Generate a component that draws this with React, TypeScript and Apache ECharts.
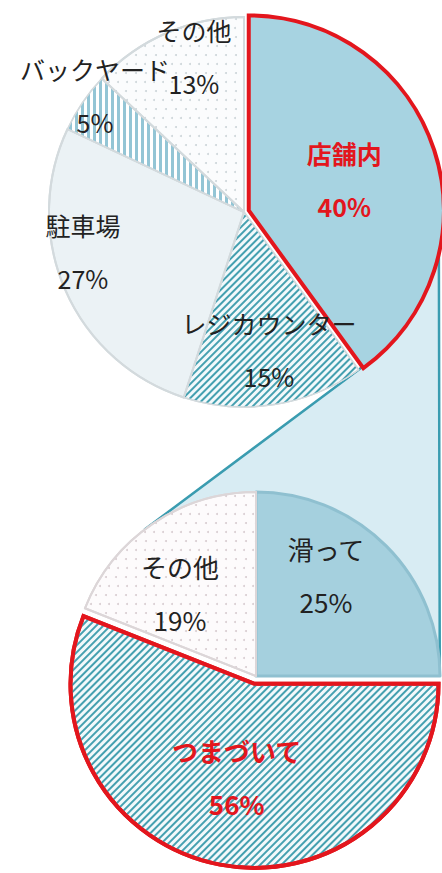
import React, { useEffect, useRef } from 'react';
import * as echarts from 'echarts';

// ---- data ----
const topCategories = ['店舗内', 'レジカウンター', '駐車場', 'バックヤード', 'その他'];
const topValues = [40, 15, 27, 5, 13];
const bottomCategories = ['滑って', 'つまづいて', 'その他'];
const bottomValues = [25, 56, 19];
const topHighlight = '店舗内';
const bottomHighlight = 'つまづいて';

// ---- layout ----
const W = 442;
const H = 873;
const TOP_C = [244, 212];
const TOP_R = 195;
const BOT_C = [256, 676];
const BOT_R = 184;
const topLabelPos = [[348, 191], [269, 349], [83, 251], [95, 95], [194, 56]];
const bottomLabelPos = [[326, 575], [236, 783], [180, 593]];

// ---- styles ----
const RED = '#e3161d';
const TEAL = '#45a0b0';
const FONT = "'Noto Sans CJK JP', 'Noto Sans', sans-serif";
const GREY_BORDER = '#d3dadd';

const stripes = (color: string, rotation: number, dash = [1.9, 3]) => ({
  symbol: 'rect',
  symbolSize: 1,
  color,
  dashArrayX: [1, 0],
  dashArrayY: dash,
  rotation,
});
const dots = (color: string, size: number, gap: number) => ({
  symbol: 'circle',
  symbolSize: 1,
  color,
  dashArrayX: [[size, gap], [0, (size + gap) / 2, size, (gap - size) / 2 > 0 ? (gap - size) / 2 : 0]],
  dashArrayY: [size, gap],
});

const topStyles: any[] = [
  { color: '#a7d3e1', borderColor: RED, borderWidth: 4, borderJoin: 'miter' },
  { color: '#f3f9fb', borderColor: GREY_BORDER, borderWidth: 1.5, decal: stripes(TEAL, -Math.PI / 4) },
  { color: '#ebf2f5', borderColor: GREY_BORDER, borderWidth: 2, decal: dots('#c3d3da', 1, 2) },
  { color: '#ffffff', borderColor: GREY_BORDER, borderWidth: 1.5, decal: stripes('#93c5d5', Math.PI / 2, [2.5, 3]) },
  { color: '#fbfcfd', borderColor: GREY_BORDER, borderWidth: 2, decal: dots('#cdd5d9', 2, 7) },
];
const bottomStyles: any[] = [
  { color: '#a5d0de', borderColor: '#8fc0d0', borderWidth: 3 },
  { color: '#f3f9fb', borderColor: RED, borderWidth: 4, borderJoin: 'miter', decal: stripes(TEAL, -Math.PI / 4) },
  { color: '#fdfbfc', borderColor: '#dcd6d8', borderWidth: 2, decal: dots('#d8cdd1', 2, 7) },
];

function tangentPoints() {
  const dx = BOT_C[0] - TOP_C[0];
  const dy = BOT_C[1] - TOP_C[1];
  const d = Math.hypot(dx, dy);
  const ux = dx / d, uy = dy / d;
  const px = -uy, py = ux;
  // internal tangent (crossing between circles)
  const a1 = -(TOP_R + BOT_R) / d;
  const b1 = Math.sqrt(1 - a1 * a1);
  const n1 = [a1 * ux + b1 * px, a1 * uy + b1 * py];
  const tA = [TOP_C[0] - TOP_R * n1[0], TOP_C[1] - TOP_R * n1[1]];
  const bA = [BOT_C[0] + BOT_R * n1[0], BOT_C[1] + BOT_R * n1[1]];
  // external tangent on the right side
  const a2 = (TOP_R - BOT_R) / d;
  const b2 = Math.sqrt(1 - a2 * a2);
  const n2 = [a2 * ux + b2 * px, a2 * uy + b2 * py];
  const tB = [TOP_C[0] - TOP_R * n2[0], TOP_C[1] - TOP_R * n2[1]];
  const bB = [BOT_C[0] - BOT_R * n2[0], BOT_C[1] - BOT_R * n2[1]];
  return [tA, tB, bB, bA];
}

function buildData(cats: string[], vals: number[], styles: any[], hi: string) {
  return cats.map((name, i) => {
    const isHi = name === hi;
    return {
      name,
      value: vals[i],
      selected: isHi,
      itemStyle: styles[i],
      select: { itemStyle: styles[i], label: isHi ? { color: RED, fontWeight: 'bold' } : {} },
      label: isHi ? { color: RED, fontWeight: 'bold' } : {},
    };
  });
}

export default function App() {
  const ref = useRef<HTMLDivElement>(null);
  useEffect(() => {
    if (!ref.current) return;
    const chart = echarts.init(ref.current, null, { renderer: 'svg', width: W, height: H });
    const poly = tangentPoints();
    const labelBase = {
      show: true,
      position: 'inside',
      formatter: '{b}\n{c}%',
      fontFamily: FONT,
      fontSize: 25,
      lineHeight: 53,
      color: '#222222',
      align: 'center',
    };
    chart.setOption({
      animation: false,
      backgroundColor: '#ffffff',
      textStyle: { fontFamily: FONT },
      graphic: [
        {
          type: 'polygon',
          z: 0,
          silent: true,
          shape: { points: poly },
          style: { fill: '#d8ecf3', stroke: '#3a9cb0', lineWidth: 2.5 },
        },
      ],
      series: [
        {
          type: 'pie',
          z: 2,
          center: TOP_C,
          radius: [0, TOP_R],
          startAngle: 90,
          clockwise: true,
          selectedMode: 'single',
          selectedOffset: 5,
          avoidLabelOverlap: false,
          emphasis: { disabled: true },
          label: labelBase,
          labelLine: { show: false },
          labelLayout: (p: any) => ({
            x: topLabelPos[p.dataIndex][0],
            y: topLabelPos[p.dataIndex][1],
            align: 'center',
            verticalAlign: 'middle',
          }),
          data: buildData(topCategories, topValues, topStyles, topHighlight),
        },
        {
          type: 'pie',
          z: 2,
          center: BOT_C,
          radius: [0, BOT_R],
          startAngle: 90,
          clockwise: true,
          selectedMode: 'single',
          selectedOffset: 8,
          avoidLabelOverlap: false,
          emphasis: { disabled: true },
          label: { ...labelBase, fontSize: 26 },
          labelLine: { show: false },
          labelLayout: (p: any) => ({
            x: bottomLabelPos[p.dataIndex][0],
            y: bottomLabelPos[p.dataIndex][1],
            align: 'center',
            verticalAlign: 'middle',
          }),
          data: buildData(bottomCategories, bottomValues, bottomStyles, bottomHighlight),
        },
      ],
    });
    return () => chart.dispose();
  }, []);
  return (
    <div
      ref={ref}
      style={{ position: 'fixed', left: 0, top: 0, width: W, height: H, background: '#fff' }}
    />
  );
}
